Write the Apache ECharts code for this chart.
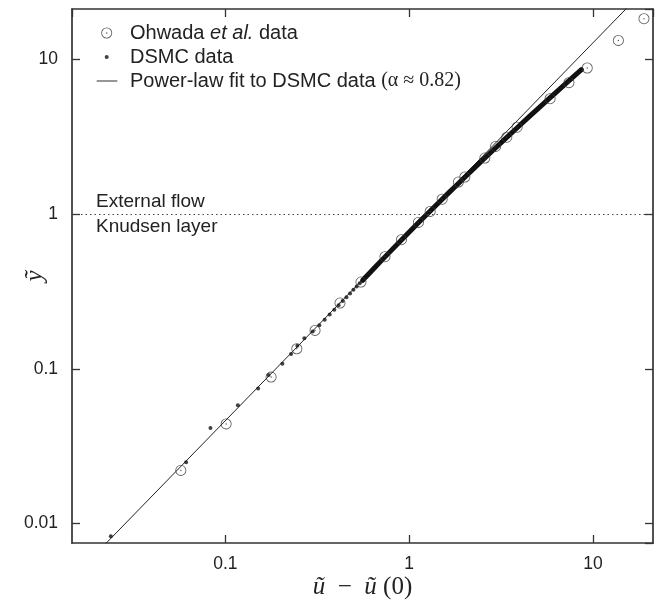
<!DOCTYPE html>
<html><head><meta charset="utf-8">
<script src="https://cdn.jsdelivr.net/npm/echarts@6/dist/echarts.min.js"></script>
<style>html,body{margin:0;padding:0;background:#fff}#c{width:662px;height:606px}</style>
</head><body><div id="c"></div>
<script>
// ---- data ----
const xRange = [0.01463, 21.2];
const yRange = [0.0075, 21.1];
const xTickLabels = [0.1, 1, 10];
const yTickLabels = [0.01, 0.1, 1, 10];

const ohwadaX = [0.0572, 0.1009, 0.1772, 0.2446, 0.3073, 0.4201, 0.5464, 0.7380, 0.9070, 1.122, 1.300, 1.511, 1.851, 2.008, 2.579, 2.952, 3.396, 3.864, 5.839, 7.396, 9.300, 13.74, 18.93];
const ohwadaY = [0.02207, 0.04406, 0.0885, 0.1348, 0.1770, 0.2661, 0.3636, 0.5299, 0.6823, 0.8825, 1.039, 1.246, 1.609, 1.734, 2.300, 2.733, 3.134, 3.637, 5.556, 7.051, 8.774, 13.22, 18.26];

const dsmcX = [0.0238, 0.0611, 0.0829, 0.1169, 0.1506, 0.1715, 0.2041, 0.2276, 0.2462, 0.2688, 0.2985, 0.3242, 0.3468, 0.3691, 0.3912, 0.4128, 0.4343, 0.4554, 0.4764, 0.4971, 0.5178, 0.5381, 0.5583, 0.5783, 0.5982];
const dsmcY = [0.0083, 0.0249, 0.0415, 0.0581, 0.0747, 0.0913, 0.1079, 0.1245, 0.1411, 0.1577, 0.1743, 0.1909, 0.2075, 0.2241, 0.2407, 0.2573, 0.2739, 0.2905, 0.3071, 0.3237, 0.3403, 0.3569, 0.3735, 0.3901, 0.4067];

// dense part of the DSMC data (merged dots forming a solid band)
const bandX = [0.648, 0.7055, 0.8187, 0.9297, 1.0387, 1.1464, 1.2527, 1.4634, 1.6706, 1.875, 2.078, 2.279, 2.579, 2.877, 3.271, 3.664, 4.054, 4.541, 5.024, 5.606, 6.185, 6.862, 7.537, 8.114, 8.646];
const bandY = [0.45, 0.5, 0.6, 0.7, 0.8, 0.9, 1.0, 1.2, 1.4, 1.6, 1.8, 2.0, 2.3, 2.6, 3.0, 3.4, 3.8, 4.3, 4.8, 5.4, 6.0, 6.7, 7.4, 8.0, 8.55];

const fitX = [0.0195, 17.4];
const fitY = [0.0063, 25.1];

const layerBoundary = 1;

// ---- chart ----
const SANS = "'Liberation Sans', Arial, Helvetica, sans-serif";
const SERIF = "'Liberation Serif', 'Times New Roman', serif";
const INK = '#222';
const FRAME = '#333';

const pairs = (xs, ys) => xs.map((x, i) => [x, ys[i]]);
const ohwadaData = pairs(ohwadaX, ohwadaY);
const dsmcSparse = pairs(dsmcX, dsmcY);
const dsmcBand = pairs(bandX, bandY);
const bandLine = dsmcSparse.filter(p => p[1] >= 0.37).concat(dsmcBand);

const RING = 'path://M12,0A12,12,0,1,1,-12,0A12,12,0,1,1,12,0ZM10.2,0A10.2,10.2,0,1,0,-10.2,0A10.2,10.2,0,1,0,10.2,0ZM1.6,0A1.6,1.6,0,1,1,-1.6,0A1.6,1.6,0,1,1,1.6,0Z';
const DASH = 'path://M0,0H40V3H0Z';

function tickFmt(list) {
  return function (v) {
    for (const t of list) if (Math.abs(Math.log10(v) - Math.log10(t)) < 1e-6) return String(t);
    return '';
  };
}

const axisLine = { show: true, onZero: false, lineStyle: { color: FRAME, width: 1.7 } };
const axisTick = { show: true, inside: true, length: 8, lineStyle: { color: FRAME, width: 1.3 } };

function xAx(pos, labels) {
  return {
    type: 'log', logBase: 10, position: pos, min: xRange[0], max: xRange[1],
    splitLine: { show: false }, axisLine, axisTick,
    axisLabel: labels ? { show: true, formatter: tickFmt(xTickLabels), color: INK, fontFamily: SANS, fontSize: 17.5, margin: 12, showMinLabel: false, showMaxLabel: false } : { show: false },
    name: labels ? '{i|ũ}{n|  −  }{i|ũ}{n| (0)}' : '',
    nameLocation: 'middle', nameGap: 32, nameMoveOverlap: false,
    nameTextStyle: { rich: {
      i: { fontFamily: SERIF, fontStyle: 'italic', fontSize: 25, color: INK },
      n: { fontFamily: SERIF, fontSize: 25, color: INK }
    } }
  };
}
function yAx(pos, labels) {
  return {
    type: 'log', logBase: 10, position: pos, min: yRange[0], max: yRange[1],
    splitLine: { show: false }, axisLine, axisTick,
    axisLabel: labels ? { show: true, formatter: tickFmt(yTickLabels), color: INK, fontFamily: SANS, fontSize: 17.5, margin: 14, showMinLabel: false, showMaxLabel: false } : { show: false },
    name: labels ? 'ỹ' : '',
    nameLocation: 'middle', nameGap: 24, nameMoveOverlap: false,
    nameTextStyle: { fontFamily: SERIF, fontStyle: 'italic', fontSize: 25, color: INK }
  };
}

const legendText = { color: INK, fontFamily: SANS, fontSize: 20, lineHeight: 22 };

const option = {
  animation: false,
  backgroundColor: '#fff',
  grid: { left: 72, right: 9, top: 9, bottom: 63, containLabel: false, outerBoundsMode: 'none' },
  xAxis: [xAx('bottom', true), xAx('top', false)],
  yAxis: [yAx('left', true), yAx('right', false)],
  legend: [
    {
      data: [{ name: 'Ohwada et al. data', icon: RING }], orient: 'vertical', left: 101.2, top: 22, padding: 0,
      itemWidth: 11, itemHeight: 11, selectedMode: false,
      itemStyle: { color: '#333' },
      formatter: () => '{sp|}{n|Ohwada }{i|et al.}{n| data}',
      textStyle: Object.assign({}, legendText, { rich: {
        sp: { width: 12.8 },
        n: legendText,
        i: Object.assign({}, legendText, { fontStyle: 'italic' })
      } })
    },
    {
      data: [{ name: 'DSMC data', icon: 'circle' }], orient: 'vertical', left: 104.7, top: 46, padding: 0,
      itemWidth: 4, itemHeight: 4, selectedMode: false,
      itemStyle: { color: '#111' },
      formatter: () => '{sp|}{n|DSMC data}',
      textStyle: Object.assign({}, legendText, { rich: { sp: { width: 16.3 }, n: legendText } })
    },
    {
      data: [{ name: 'Power-law fit to DSMC data (α ≈ 0.82)', icon: DASH }], orient: 'vertical', left: 96.7, top: 70, padding: 0,
      itemWidth: 20.6, itemHeight: 22, selectedMode: false,
      itemStyle: { color: '#777' },
      formatter: () => '{sp|}{n|Power-law fit to DSMC data }{s|(α ≈ 0.82)}',
      textStyle: Object.assign({}, legendText, { rich: {
        sp: { width: 7.7 },
        n: legendText,
        s: { color: INK, fontFamily: SERIF, fontSize: 20, lineHeight: 22 }
      } })
    }
  ],
  series: [
    {
      type: 'line', name: 'Power-law fit to DSMC data (α ≈ 0.82)', data: pairs(fitX, fitY),
      symbol: 'none', lineStyle: { color: INK, width: 1 }, itemStyle: { color: INK }, z: 2, silent: true,
      markLine: {
        silent: true, symbol: ['none', 'none'],
        lineStyle: { color: '#444', width: 1.2, type: [1.5, 3] },
        label: { color: INK, fontFamily: SANS, fontSize: 19 },
        data: [
          { yAxis: layerBoundary, label: { show: true, position: 'insideStartTop', formatter: 'External flow', distance: [24, 3], color: INK } },
          { yAxis: layerBoundary, lineStyle: { color: 'rgba(0,0,0,0)' }, label: { show: true, position: 'insideStartBottom', formatter: 'Knudsen layer', distance: [24, 3], color: INK } }
        ]
      }
    },
    {
      type: 'line', name: 'DSMC band', data: bandLine, symbol: 'none',
      lineStyle: { color: '#111', width: 5, cap: 'round', join: 'round' }, z: 3, silent: true
    },
    {
      type: 'scatter', name: 'DSMC data', data: dsmcSparse.concat(dsmcBand),
      symbol: 'circle', symbolSize: 4, itemStyle: { color: '#111' }, z: 3, silent: true
    },
    {
      type: 'scatter', name: 'Ohwada et al. data', data: ohwadaData,
      symbol: RING, symbolSize: 11, itemStyle: { color: '#333' }, z: 4, silent: true
    }
  ]
};

const chart = echarts.init(document.getElementById('c'), null, { renderer: 'canvas' });
chart.setOption(option);
</script>
</body></html>
